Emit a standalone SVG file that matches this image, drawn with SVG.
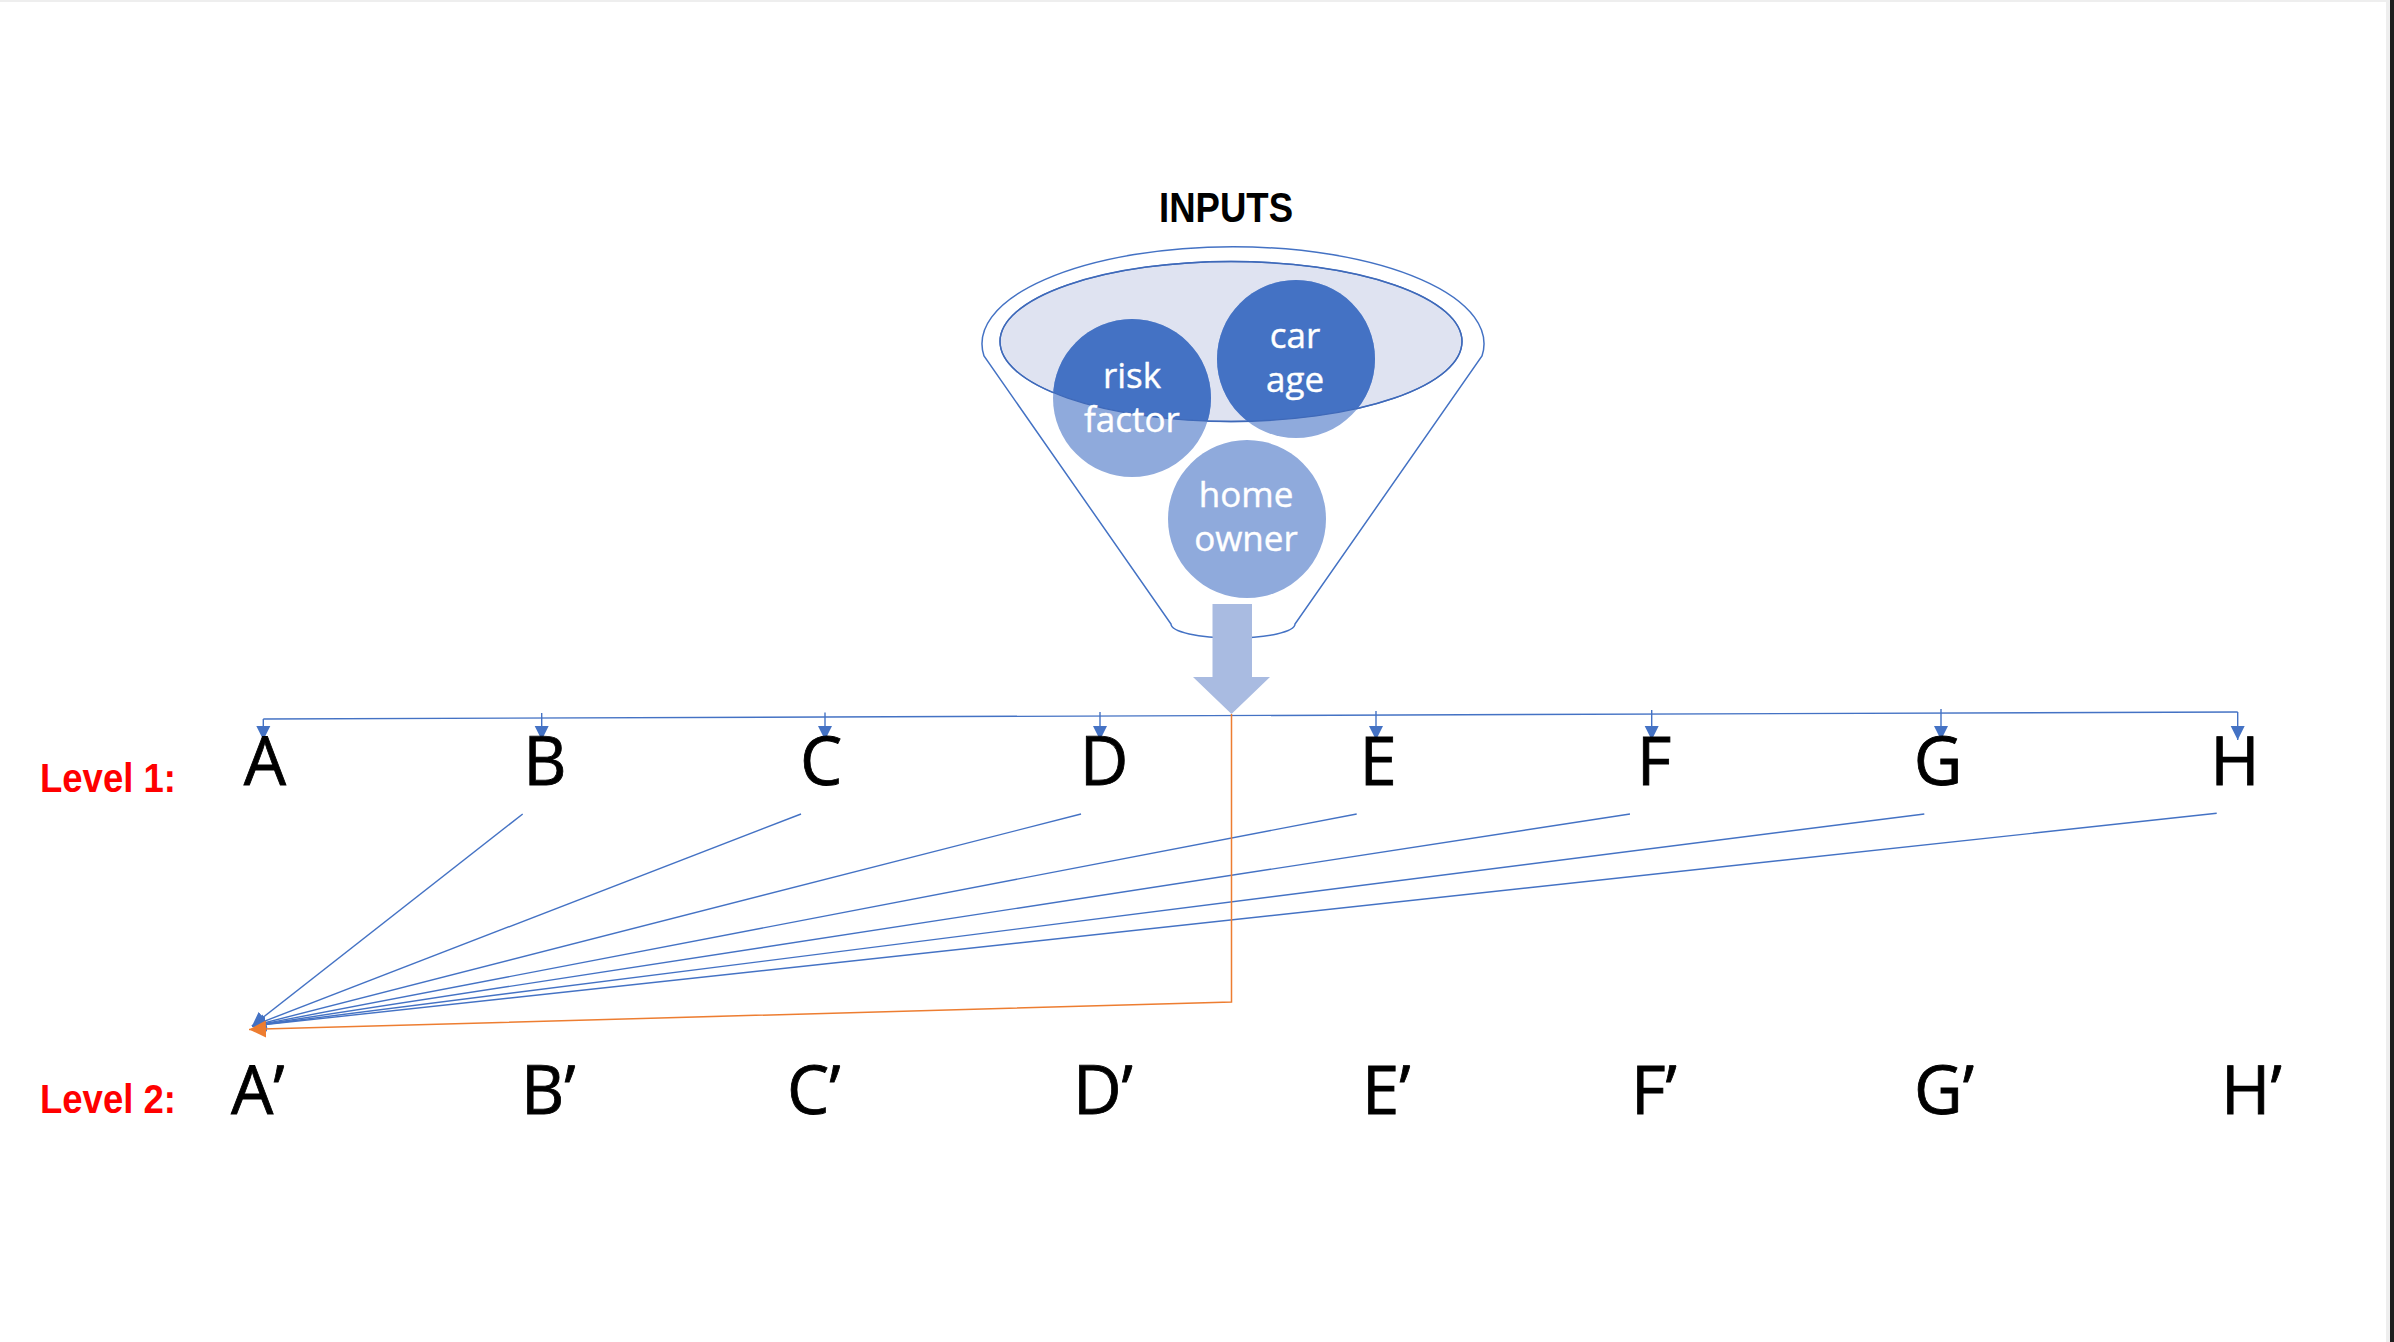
<svg xmlns="http://www.w3.org/2000/svg" width="2394" height="1342" viewBox="0 0 2394 1342">
  <style>
    .outline { fill: none; stroke: #4472c4; stroke-width: 1.5; }
    .light { fill: #8faadc; }
    .dark { fill: #4472c4; }
    .ctext { font-family: "Open Sans", "Liberation Sans", sans-serif; font-size: 35px; fill: #ffffff; text-anchor: middle; stroke: #ffffff; stroke-width: 0.4; }
    .l1 { font-family: "Open Sans", "Liberation Sans", sans-serif; font-size: 67px; fill: #000000; text-anchor: middle; stroke: #000000; stroke-width: 0.8; }
    .l2 { font-family: "Open Sans", "Liberation Sans", sans-serif; font-size: 67px; fill: #000000; stroke: #000000; stroke-width: 0.8; }
    .lvl { font-family: "Liberation Sans", Arial, sans-serif; font-weight: bold; font-size: 40px; fill: #ff0000; }
    .title { font-family: "Liberation Sans", Arial, sans-serif; font-weight: bold; font-size: 42px; fill: #000000; text-anchor: middle; }
    .conn { fill: none; stroke: #4472c4; stroke-width: 1.4; }
    .orange { fill: none; stroke: #ed7d31; stroke-width: 1.5; }
  </style>
  <defs>
    <clipPath id="rimclip">
      <ellipse cx="1231" cy="341.5" rx="231" ry="80"/>
    </clipPath>
    <marker id="ab" viewBox="0 0 10 10" refX="10" refY="5" markerWidth="14" markerHeight="15" markerUnits="userSpaceOnUse" orient="auto">
      <path d="M0,0 L10,5 L0,10 Z" fill="#4472c4"/>
    </marker>
    <marker id="ao" viewBox="0 0 10 10" refX="10" refY="5" markerWidth="17" markerHeight="18" markerUnits="userSpaceOnUse" orient="auto">
      <path d="M0,0 L10,5 L0,10 Z" fill="#ed7d31"/>
    </marker>
  </defs>

  <rect x="0" y="0" width="2394" height="1342" fill="#ffffff"/>
  <rect x="0" y="0" width="2394" height="2" fill="#eeeeee"/>
  <rect x="2386" y="0" width="4" height="1342" fill="#eeeeee"/>
  <rect x="2390" y="0" width="4" height="1342" fill="#1e1e1e"/>

  <text class="title" x="1226" y="222" textLength="134" lengthAdjust="spacingAndGlyphs">INPUTS</text>

  <g id="funnel">
    <path d="M984 356 A251 97 0 1 1 1482 356 L1295 624 A62 14 0 0 1 1171 624 Z" fill="#ffffff" stroke="#4472c4" stroke-width="1.5"/>
    <ellipse cx="1231" cy="341.5" rx="231" ry="80" fill="#dfe3f1" stroke="#4472c4" stroke-width="1.5"/>
  </g>

  <g id="node-risk-factor">
    <circle class="light" cx="1132" cy="398" r="79"/>
    <circle class="dark" cx="1132" cy="398" r="79" clip-path="url(#rimclip)"/>
  </g>
  <g id="node-car-age">
    <circle class="light" cx="1296" cy="359" r="79"/>
    <circle class="dark" cx="1296" cy="359" r="79" clip-path="url(#rimclip)"/>
  </g>
  <g id="node-home-owner">
    <circle class="light" cx="1247" cy="519" r="79"/>
  </g>
  <ellipse cx="1231" cy="341.5" rx="231" ry="80" fill="none" stroke="#3f69b8" stroke-width="1.3"/>
  <g id="circle-labels">
    <text class="ctext" x="1132" y="388">risk</text>
    <text class="ctext" x="1132" y="432">factor</text>
    <text class="ctext" x="1295" y="348">car</text>
    <text class="ctext" x="1295" y="392">age</text>
    <text class="ctext" x="1246" y="507">home</text>
    <text class="ctext" x="1246" y="551">owner</text>
  </g>

  <g id="funnel-arrow">
    <path d="M1212.5 604 H1252 V677 H1270 L1231.5 714 L1193 677 H1212.5 Z" fill="#a9bbe1"/>
  </g>

  <g id="connectors">
    <path class="conn" d="M263.3 719 L2237.7 712"/>
    <path class="conn" marker-end="url(#ab)" d="M263.3 719 V740"/>
    <path class="conn" marker-end="url(#ab)" d="M541.7 713 V740"/>
    <path class="conn" marker-end="url(#ab)" d="M825 712.5 V740"/>
    <path class="conn" marker-end="url(#ab)" d="M1100 712 V740"/>
    <path class="conn" marker-end="url(#ab)" d="M1376 711 V740"/>
    <path class="conn" marker-end="url(#ab)" d="M1651.7 710 V740"/>
    <path class="conn" marker-end="url(#ab)" d="M1941 709 V740"/>
    <path class="conn" marker-end="url(#ab)" d="M2237.7 712 V740"/>

    <path class="conn" marker-end="url(#ab)" d="M522.7 814 L252 1026"/>
    <path class="conn" marker-end="url(#ab)" d="M801 814 L252 1026"/>
    <path class="conn" marker-end="url(#ab)" d="M1081 814 L252 1026"/>
    <path class="conn" marker-end="url(#ab)" d="M1356.7 814 L252 1026"/>
    <path class="conn" marker-end="url(#ab)" d="M1630 814 L252 1026"/>
    <path class="conn" marker-end="url(#ab)" d="M1924.3 814 L252 1026"/>
    <path class="conn" marker-end="url(#ab)" d="M2216.7 813.3 L252 1026"/>

    <path class="orange" marker-end="url(#ao)" d="M1231.5 714 V1002 L249 1029.5"/>
  </g>

  <text class="lvl" x="40" y="792" textLength="136" lengthAdjust="spacingAndGlyphs">Level 1:</text>
  <text class="lvl" x="40" y="1113" textLength="136" lengthAdjust="spacingAndGlyphs">Level 2:</text>

  <g id="node-A"><text class="l1" x="265" y="785">A</text></g>
  <g id="node-B"><text class="l1" x="545" y="785">B</text></g>
  <g id="node-C"><text class="l1" x="821" y="785">C</text></g>
  <g id="node-D"><text class="l1" x="1104" y="785">D</text></g>
  <g id="node-E"><text class="l1" x="1378" y="785">E</text></g>
  <g id="node-F"><text class="l1" x="1654" y="785">F</text></g>
  <g id="node-G"><text class="l1" x="1938" y="785">G</text></g>
  <g id="node-H"><text class="l1" x="2235" y="785">H</text></g>

  <g id="node-A2"><text class="l2" x="231" y="1114">A’</text></g>
  <g id="node-B2"><text class="l2" x="521" y="1114">B’</text></g>
  <g id="node-C2"><text class="l2" x="787" y="1114">C’</text></g>
  <g id="node-D2"><text class="l2" x="1073" y="1114">D’</text></g>
  <g id="node-E2"><text class="l2" x="1362" y="1114">E’</text></g>
  <g id="node-F2"><text class="l2" x="1631" y="1114">F’</text></g>
  <g id="node-G2"><text class="l2" x="1914" y="1114">G’</text></g>
  <g id="node-H2"><text class="l2" x="2221" y="1114">H’</text></g>
</svg>
